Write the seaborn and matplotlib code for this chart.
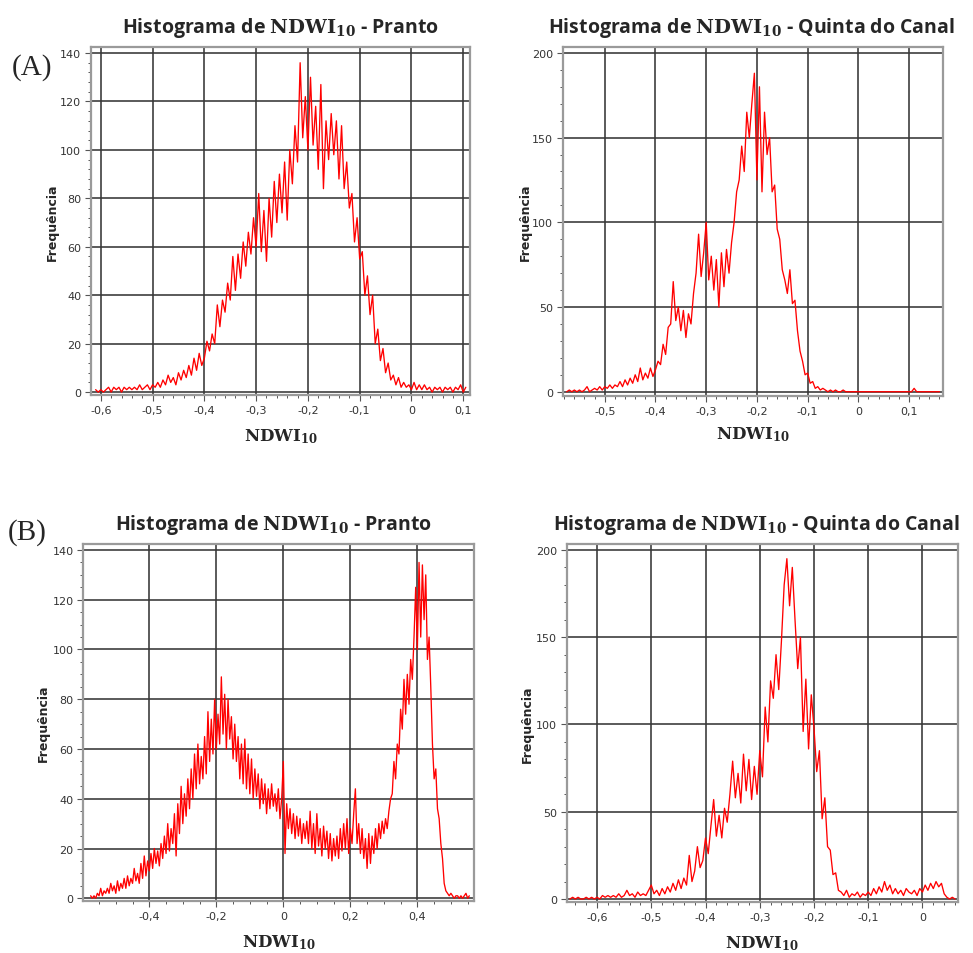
import numpy as np
import pandas as pd
import matplotlib
matplotlib.use("Agg")
import matplotlib.pyplot as plt
from matplotlib.ticker import MultipleLocator, FuncFormatter
import seaborn as sns

# ── Data: histogram counts (bin width 0.005) ──────────────────────────────────
BIN = 0.005

# (A) Pranto — first bin at -0.610
pranto_a_start = -0.610
pranto_a = [
    1, 0, 1, 0, 1, 2, 0, 2, 1, 2,
    0, 2, 1, 2, 1, 2, 1, 3, 1, 2,
    3, 1, 3, 2, 4, 2, 5, 3, 7, 4,
    6, 3, 8, 5, 9, 6, 11, 7, 14, 9,
    16, 11, 14, 21, 17, 24, 20, 36, 27, 38,
    33, 45, 38, 56, 42, 57, 47, 62, 52, 66,
    57, 72, 60, 82, 58, 75, 54, 80, 64, 87,
    70, 90, 74, 95, 71, 100, 86, 110, 95, 136,
    105, 122, 100, 130, 102, 118, 92, 127, 84, 112,
    96, 115, 98, 112, 88, 110, 84, 95, 76, 82,
    62, 72, 55, 58, 40, 48, 32, 40, 20, 26,
    13, 18, 8, 12, 5, 7, 3, 6, 2, 4,
    2, 3, 1, 4, 1, 3, 1, 3, 1, 2,
    0, 2, 1, 2, 0, 2, 1, 2, 0, 2,
    1, 3, 0, 2,
]

# (A) Quinta do Canal — first bin at -0.575
quinta_a_start = -0.575
quinta_a = [
    0, 1, 0, 1, 0, 1, 0, 1, 3, 0,
    1, 2, 1, 3, 1, 3, 2, 4, 2, 4,
    3, 6, 3, 7, 4, 8, 5, 10, 6, 14,
    7, 11, 8, 14, 9, 13, 18, 16, 28, 22,
    38, 40, 65, 42, 50, 36, 48, 32, 46, 40,
    58, 70, 93, 68, 82, 100, 66, 80, 60, 78,
    50, 82, 62, 84, 70, 88, 100, 118, 125, 145,
    130, 165, 150, 170, 188, 125, 180, 118, 165, 140,
    150, 118, 122, 96, 90, 72, 66, 58, 72, 52,
    54, 36, 24, 18, 10, 11, 5, 6, 2, 3,
    1, 2, 1, 0, 1, 0, 1, 0, 0, 1,
    0, 0, 0, 0, 0, 0, 0, 0, 0, 0,
    0, 0, 0, 0, 0, 0, 0, 0, 0, 0,
    0, 0, 0, 0, 0, 0, 0, 2, 0, 0,
    0, 0, 0, 0, 0, 0, 0, 0,
]

# (B) Pranto — first bin at -0.575
pranto_b_start = -0.575
pranto_b = [
    1, 0, 1, 0, 2, 1, 4, 1, 3, 2,
    4, 2, 6, 3, 5, 2, 7, 3, 6, 4,
    8, 4, 9, 5, 8, 6, 12, 7, 10, 6,
    14, 8, 17, 9, 15, 11, 18, 12, 20, 14,
    19, 13, 22, 16, 25, 18, 30, 19, 28, 22,
    34, 17, 38, 26, 45, 30, 42, 33, 48, 36,
    52, 40, 58, 44, 62, 46, 57, 48, 65, 50,
    75, 55, 72, 58, 80, 60, 74, 62, 89, 66,
    82, 60, 80, 64, 73, 56, 70, 55, 65, 48,
    62, 46, 64, 44, 58, 42, 56, 40, 52, 41,
    50, 36, 48, 38, 46, 34, 44, 36, 46, 37,
    42, 35, 44, 32, 40, 55, 18, 38, 28, 36,
    26, 34, 24, 33, 25, 32, 22, 30, 24, 31,
    22, 35, 20, 30, 18, 34, 21, 28, 17, 29,
    20, 27, 16, 26, 15, 24, 17, 25, 16, 28,
    19, 30, 20, 32, 18, 28, 22, 34, 44, 22,
    30, 18, 28, 16, 24, 12, 26, 14, 25, 18,
    28, 20, 30, 24, 31, 26, 32, 28, 35, 40,
    42, 55, 48, 62, 58, 76, 68, 88, 74, 90,
    78, 96, 88, 105, 125, 100, 135, 105, 134, 112,
    130, 96, 105, 85, 62, 48, 52, 36, 32, 22,
    16, 6, 3, 2, 1, 2, 1, 0, 1, 1,
    0, 1, 0, 1, 2, 0, 1,
]

# (B) Quinta do Canal — first bin at -0.650
quinta_b_start = -0.650
quinta_b = [
    0, 1, 0, 1, 0, 0, 1, 0, 1, 0,
    1, 0, 2, 1, 2, 1, 2, 1, 3, 1,
    2, 5, 2, 3, 1, 4, 2, 3, 2, 5,
    8, 3, 5, 2, 6, 3, 7, 4, 9, 5,
    11, 6, 12, 8, 25, 10, 16, 30, 18, 22,
    35, 26, 42, 57, 36, 48, 35, 52, 44, 60,
    79, 58, 72, 55, 83, 62, 80, 57, 76, 60,
    85, 70, 110, 90, 125, 115, 140, 120, 148, 180,
    195, 168, 190, 160, 132, 150, 96, 126, 86, 117,
    98, 73, 85, 46, 58, 30, 28, 14, 15, 5,
    4, 2, 5, 1, 3, 2, 4, 1, 3, 2,
    4, 2, 6, 3, 7, 4, 10, 5, 8, 3,
    6, 3, 5, 2, 6, 4, 3, 5, 2, 6,
    4, 8, 5, 9, 6, 10, 7, 9, 3, 1,
    0, 1, 0,
]

TITLE_SITES = ["Pranto", "Quinta do Canal", "Pranto", "Quinta do Canal"]

# ── Style ─────────────────────────────────────────────────────────────────────
sns.set_style("white")
plt.rcParams["font.family"] = ["DejaVu Sans"]
plt.rcParams["mathtext.fontset"] = "dejavuserif"

LINE_COL = "#ff0000"
GRID_COL = "#363636"
SPINE_COL = "#9a9a9a"
TICK_COL = "#333333"


def comma_fmt(v, pos):
    if abs(v) < 1e-9:
        return "0"
    return f"{v:.1f}".replace(".", ",")


def int_fmt(v, pos):
    return f"{v:.0f}"


# rect (fig fraction), xlim, ylim, x major/minor, y major/minor, label coords
panels = [
    dict(counts=pranto_a, start=pranto_a_start,
         rect=[0.0935, 0.5849, 0.3895, 0.3648],
         xlim=(-0.619, 0.113), ylim=(-1.2, 142.5),
         xmaj=0.1, xmin=0.02, ymaj=20, ymin=4,
         ylab_x=-0.103, xlab_y=-0.118,
         title_xy=(0.288, 0.9654)),
    dict(counts=quinta_a, start=quinta_a_start,
         rect=[0.5783, 0.5839, 0.3909, 0.3658],
         xlim=(-0.583, 0.167), ylim=(-2.5, 203.5),
         xmaj=0.1, xmin=0.02, ymaj=50, ymin=10,
         ylab_x=-0.099, xlab_y=-0.109,
         title_xy=(0.7717, 0.9654)),
    dict(counts=pranto_b, start=pranto_b_start,
         rect=[0.0856, 0.0545, 0.4019, 0.3742],
         xlim=(-0.597, 0.570), ylim=(-1.1, 142.4),
         xmaj=0.2, xmin=0.05, ymaj=20, ymin=5,
         ylab_x=-0.103, xlab_y=-0.115,
         title_xy=(0.2806, 0.4444)),
    dict(counts=quinta_b, start=quinta_b_start,
         rect=[0.5824, 0.0531, 0.4019, 0.3756],
         xlim=(-0.656, 0.065), ylim=(-1.9, 203.4),
         xmaj=0.1, xmin=0.02, ymaj=50, ymin=10,
         ylab_x=-0.101, xlab_y=-0.112,
         title_xy=(0.7777, 0.4444)),
]

fig = plt.figure(figsize=(9.73, 9.54), dpi=100)

for p, site in zip(panels, TITLE_SITES):
    ax = fig.add_axes(p["rect"])
    counts = np.asarray(p["counts"], dtype=float)
    df = pd.DataFrame({
        "ndwi": p["start"] + BIN * np.arange(len(counts)),
        "freq": counts,
    })
    sns.lineplot(data=df, x="ndwi", y="freq", ax=ax, color=LINE_COL,
                 linewidth=0.95, estimator=None, sort=True)

    ax.set_xlim(*p["xlim"])
    ax.set_ylim(*p["ylim"])
    ax.xaxis.set_major_locator(MultipleLocator(p["xmaj"]))
    ax.xaxis.set_minor_locator(MultipleLocator(p["xmin"]))
    ax.yaxis.set_major_locator(MultipleLocator(p["ymaj"]))
    ax.yaxis.set_minor_locator(MultipleLocator(p["ymin"]))
    ax.xaxis.set_major_formatter(FuncFormatter(comma_fmt))
    ax.yaxis.set_major_formatter(FuncFormatter(int_fmt))

    ax.grid(True, which="major", color=GRID_COL, linewidth=1.15)
    ax.set_axisbelow(True)
    for s in ax.spines.values():
        s.set_color(SPINE_COL)
        s.set_linewidth(1.6)

    ax.tick_params(which="major", direction="out", length=4.5, width=0.8,
                   color="#555555", labelsize=8, labelcolor=TICK_COL, pad=2.5)
    ax.tick_params(which="minor", direction="out", length=2.5, width=0.7,
                   color="#555555")
    ax.tick_params(axis="x", which="both", bottom=True)
    ax.tick_params(axis="y", which="both", left=True)

    ax.set_ylabel("Frequência", fontsize=9, fontweight="bold", va="center")
    ax.yaxis.set_label_coords(p["ylab_x"], 0.5)
    ax.set_xlabel(r"$\mathbf{NDWI}_{\mathbf{10}}$", fontsize=12, va="center")
    ax.xaxis.set_label_coords(0.5, p["xlab_y"])

    tx, ty = p["title_xy"]
    fig.text(tx, ty, r"Histograma de $\mathbf{NDWI}_{\mathbf{10}}$ - " + site,
             ha="center", va="baseline", fontsize=14, fontweight="bold",
             family=["Open Sans", "DejaVu Sans"])

# Panel letters
fig.text(0.012, 1 - 68 / 954, "(A)", ha="left", va="center", fontsize=21,
         family=["Liberation Serif", "DejaVu Serif"])
fig.text(0.008, 1 - 533 / 954, "(B)", ha="left", va="center", fontsize=21,
         family=["Liberation Serif", "DejaVu Serif"])

fig.savefig("out.png", dpi=100, facecolor="white")
plt.close(fig)
